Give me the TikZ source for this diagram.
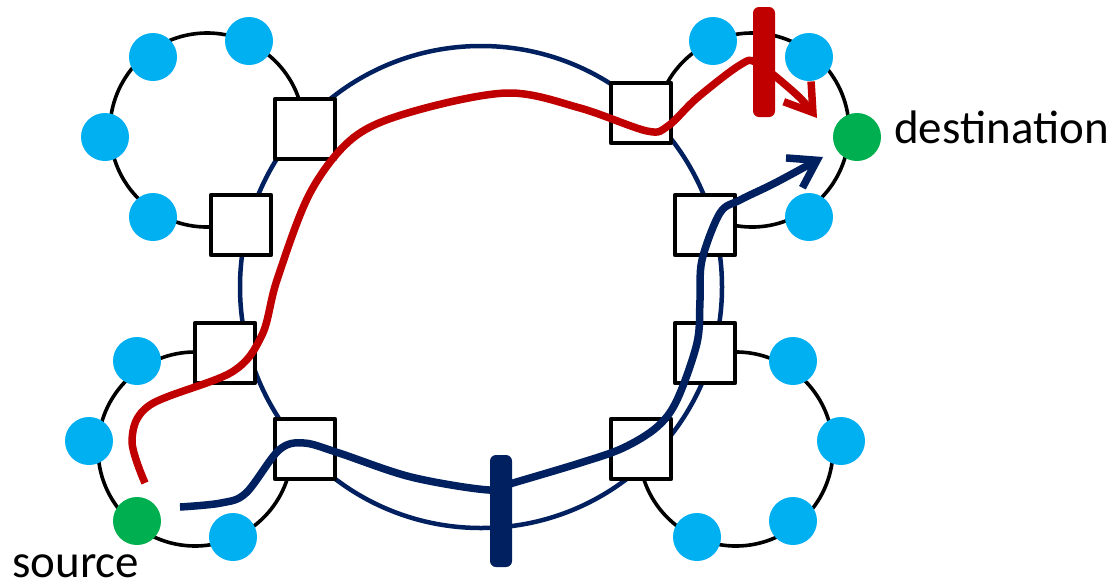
\documentclass[tikz,border=0pt]{standalone}
\usepackage{fontspec}
\setmainfont{Carlito}
\usetikzlibrary{arrows.meta}
\definecolor{navy}{HTML}{002060}
\definecolor{cutred}{HTML}{C00000}
\definecolor{hostblue}{HTML}{00B0F0}
\definecolor{endgreen}{HTML}{00B050}
\begin{document}
\begin{tikzpicture}[x=1pt,y=-1pt,line join=round,
sw node/.style={rectangle,draw=black,fill=white,line width=3.6pt,minimum size=60.5pt,inner sep=0pt},
host node/.style={circle,fill=hostblue,minimum size=48pt,inner sep=0pt},
end node/.style={circle,fill=endgreen,minimum size=48pt,inner sep=0pt},
ring/.style={draw=black,line width=3.6pt},
cut node/.style={rectangle,rounded corners=6pt,minimum width=22pt,minimum height=110pt,inner sep=0pt},
flow/.style={line width=7.5pt,-{Straight Barb[length=26pt,width=34pt]}}]
\useasboundingbox (0,0) rectangle (1117,587);
\node[circle,draw=navy,line width=4.5pt,minimum size=482pt,inner sep=0pt] (core) at (481,287) {};
\coordinate (tlc) at (207,130);
\coordinate (trc) at (752,130);
\coordinate (blc) at (195,449);
\coordinate (brc) at (736,449);
\draw[ring] ([shift={(12:97pt)}]tlc) arc[start angle=12,end angle=282,radius=97pt];
\draw[ring] ([shift={(-105:97pt)}]trc) arc[start angle=-105,end angle=155,radius=97pt];
\draw[ring] ([shift={(84:97pt)}]blc) arc[start angle=84,end angle=345,radius=97pt];
\draw[ring] ([shift={(195:97pt)}]brc) arc[start angle=195,end angle=456,radius=97pt];
\begin{scope}
\node[sw node] (s1) at (305,129) {};
\node[sw node] (s2) at (241,225) {};
\node[sw node] (s3) at (225,353) {};
\node[sw node] (s4) at (305,449) {};
\node[sw node] (s5) at (641,449) {};
\node[sw node] (s6) at (705,353) {};
\node[sw node] (s7) at (705,225) {};
\node[sw node] (s8) at (641,113) {};
\end{scope}
\begin{scope}
\node[host node] (h1) at (153,57) {};
\node[host node] (h2) at (249,41) {};
\node[host node] (h3) at (105,137) {};
\node[host node] (h4) at (153,217) {};
\node[host node] (h5) at (713,41) {};
\node[host node] (h6) at (809,57) {};
\node[host node] (h7) at (809,217) {};
\node[host node] (h8) at (137,361) {};
\node[host node] (h9) at (89,441) {};
\node[host node] (h10) at (233,537) {};
\node[host node] (h11) at (793,361) {};
\node[host node] (h12) at (841,441) {};
\node[host node] (h13) at (793,521) {};
\node[host node] (h14) at (697,537) {};
\node[end node] (src) at (137,521) {};
\node[end node] (dst) at (857,137) {};
\end{scope}
\begin{scope}[every node/.style={font=\fontsize{47}{50}\selectfont,inner sep=0pt,anchor=base west}]
\node (srclbl) at (12,577) {source};
\node (dstlbl) at (894,143) {destination};
\end{scope}
\coordinate (rs) at (145,483);
\coordinate (re) at (817,118);
\coordinate (bs) at (180,507);
\coordinate (be) at (823,157);
\draw[flow,cutred] plot[smooth,tension=0.55] coordinates {(rs) (132,440) (150,405) (232,372) (262,335) (277,280) (310,193) (353,138) (411,112) (507,93) (580,108) (647,131) (668,126) (697,98) (740,65) (757,63) (797,95) (re)};
\draw[flow,navy] plot[smooth,tension=0.55] coordinates {(bs) (221,503) (246,493) (279,450) (304,443) (339,453) (411,477) (489,490) (513,483) (580,463) (623,448) (657,427) (677,400) (697,343) (700,300) (702,260) (720,213) (740,200) (775,183) (be)};
\node[cut node,fill=cutred] (rcut) at (764,62) {};
\node[cut node,fill=navy,minimum height=112pt] (bcut) at (501,511) {};
\end{tikzpicture}
\end{document}
